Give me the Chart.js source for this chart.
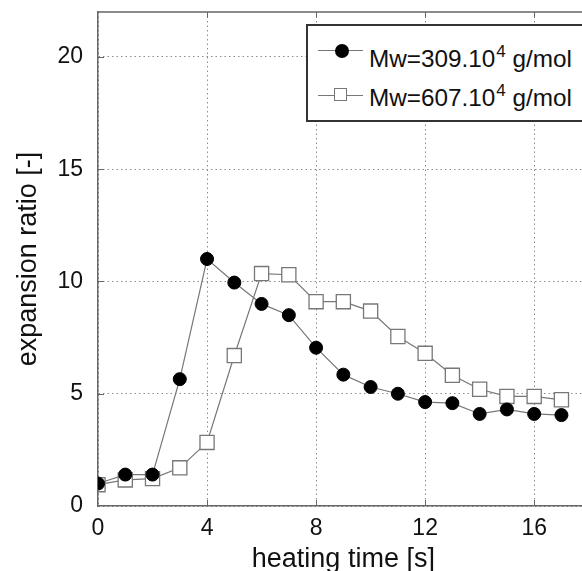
<!DOCTYPE html>
<html>
<head>
<meta charset="utf-8">
<script src="https://cdn.jsdelivr.net/npm/chart.js@4"></script>
<style>
  html, body { margin: 0; padding: 0; background: #fff; overflow: hidden; width: 582px; height: 571px; }
  #wrap { position: absolute; left: 0; top: 0; width: 600px; height: 580px; }
  #legend {
    position: absolute; left: 306px; top: 24px; width: 300px; height: 94px;
    border: 2px solid #333; background: #fff;
    font-family: "Liberation Sans", Arial, sans-serif; font-size: 24.3px; color: #111;
  }
  #legend .ln { position: absolute; left: 10px; width: 45px; height: 0; border-top: 1px solid #777; }
  #legend .mk { position: absolute; box-sizing: border-box; }
  #legend .tx { position: absolute; left: 61px; white-space: nowrap; line-height: 30px; }
  #legend sup { font-size: 17px; vertical-align: 10px; line-height: 0; margin-left: 1px; }
  .dot { width: 14px; height: 14px; border-radius: 50%; background: #000; }
  .sq { width: 13px; height: 13px; border: 1px solid #777; background: #fff; }
</style>
</head>
<body>
<div id="wrap">
  <canvas id="chart" width="600" height="580"></canvas>
  <div id="legend">
    <div class="ln" style="top:24px"></div>
    <div class="mk dot" style="left:27px; top:18px"></div>
    <div class="tx" style="top:18px">Mw=309.10<sup>4</sup> g/mol</div>
    <div class="ln" style="top:69px"></div>
    <div class="mk sq" style="left:26px; top:62px"></div>
    <div class="tx" style="top:57px">Mw=607.10<sup>4</sup> g/mol</div>
  </div>
</div>
<script>
// Data
const times = [0, 1, 2, 3, 4, 5, 6, 7, 8, 9, 10, 11, 12, 13, 14, 15, 16, 17];
const mw309 = [1.0, 1.4, 1.4, 5.65, 11.0, 9.95, 9.0, 8.5, 7.05, 5.85, 5.3, 5.0, 4.63, 4.58, 4.1, 4.3, 4.1, 4.05];
const mw607 = [0.95, 1.16, 1.22, 1.7, 2.83, 6.7, 10.35, 10.3, 9.1, 9.1, 8.68, 7.55, 6.8, 5.82, 5.2, 4.88, 4.88, 4.73];
const xTicks = [0, 4, 8, 12, 16];
const yTicks = [0, 5, 10, 15, 20];

const font = "'Liberation Sans', Arial, sans-serif";

// top frame line + small inward tick marks
const frame = {
  id: 'frame',
  afterDraw(chart) {
    const { ctx, chartArea, scales } = chart;
    const { left, right, top, bottom } = chartArea;
    ctx.save();
    ctx.strokeStyle = '#666';
    ctx.lineWidth = 1.5;
    ctx.beginPath();
    ctx.moveTo(left, top);
    ctx.lineTo(right, top);
    ctx.stroke();
    ctx.lineWidth = 1;
    ctx.beginPath();
    xTicks.slice(1).forEach(v => {
      const px = Math.round(scales.x.getPixelForValue(v)) + 0.5;
      ctx.moveTo(px, bottom); ctx.lineTo(px, bottom - 6);
      ctx.moveTo(px, top); ctx.lineTo(px, top + 6);
    });
    yTicks.slice(1).forEach(v => {
      const py = Math.round(scales.y.getPixelForValue(v)) + 0.5;
      ctx.moveTo(left, py); ctx.lineTo(left + 6, py);
    });
    ctx.stroke();
    ctx.restore();
  }
};

const gridStyle = { color: '#8c8c8c', lineWidth: 1, drawTicks: false };
const borderStyle = { color: '#666', width: 1.5, dash: [1.5, 3] };

new Chart(document.getElementById('chart'), {
  type: 'line',
  data: {
    datasets: [
      {
        label: 'Mw=309.10^4 g/mol',
        data: times.map((t, i) => ({ x: t, y: mw309[i] })),
        borderColor: '#777',
        borderWidth: 1.2,
        pointStyle: 'circle',
        pointRadius: 6.5,
        pointBackgroundColor: '#000',
        pointBorderColor: '#000',
        pointBorderWidth: 1,
        tension: 0
      },
      {
        label: 'Mw=607.10^4 g/mol',
        data: times.map((t, i) => ({ x: t, y: mw607[i] })),
        borderColor: '#777',
        borderWidth: 1.2,
        pointStyle: 'rect',
        pointRadius: 10,
        pointBackgroundColor: '#fff',
        pointBorderColor: '#777',
        pointBorderWidth: 1.3,
        tension: 0
      }
    ]
  },
  options: {
    responsive: false,
    animation: false,
    layout: { padding: { left: 8, top: 12, right: 6, bottom: 0 } },
    plugins: { legend: { display: false }, tooltip: { enabled: false } },
    scales: {
      x: {
        type: 'linear',
        min: 0,
        max: 18,
        afterBuildTicks: s => { s.ticks = xTicks.map(v => ({ value: v })); },
        afterFit: s => { s.height = 74; s.paddingLeft = 0; s.paddingRight = 0; },
        grid: { ...gridStyle },
        border: { ...borderStyle },
        ticks: { color: '#111', font: { family: font, size: 23 }, padding: 9 },
        title: { display: true, text: 'heating time [s]', color: '#111', font: { family: font, size: 27 }, padding: { top: 0, bottom: 4 } }
      },
      y: {
        type: 'linear',
        min: 0,
        max: 22,
        afterBuildTicks: s => { s.ticks = yTicks.map(v => ({ value: v })); },
        afterFit: s => { s.width = 90; s.paddingTop = 0; s.paddingBottom = 0; },
        grid: { ...gridStyle },
        border: { ...borderStyle },
        ticks: { color: '#111', font: { family: font, size: 23 }, padding: 15 },
        title: { display: true, text: 'expansion ratio [-]', color: '#111', font: { family: font, size: 27 }, padding: { top: 4, bottom: 0 } }
      }
    }
  },
  plugins: [frame]
});
</script>
</body>
</html>
